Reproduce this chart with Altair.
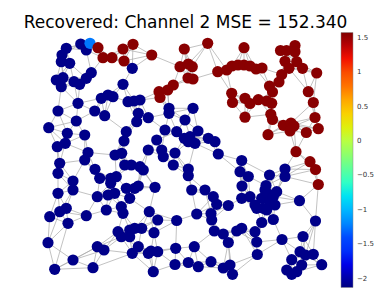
import altair as alt
import numpy as np
import pandas as pd

TITLE = "Recovered: Channel 2 MSE = 152.340"

# node positions (graph coordinates)
red_x = [98, 103, 112, 123, 133, 124,
         151.7, 184.3, 207.7, 180, 188.3, 192.3, 188, 193,
         217.7, 226.7, 232, 238, 244, 250, 256, 262,
         244, 280.5, 286.5, 295, 295, 285, 296.7, 289, 302.5, 316.7,
         281.7, 279, 269.5, 272.5, 308.3, 313.3,
         231.7, 232.5, 173.3, 167.7, 159, 160,
         245, 250, 258.3, 266.7, 271.7,
         245, 270.8, 272.5, 315, 318.3, 306.3,
         283.3, 291, 294, 290, 268, 296,
         310, 315.5, 318.3]
red_y = [47.7, 57.7, 57.7, 49, 44.3, 61,
         55, 49, 43.3, 66.7, 64, 66.7, 78, 79,
         71.7, 70, 66, 65, 65, 66, 69, 68,
         47.7, 50.5, 50.5, 45.5, 51.7, 61.3, 61.7, 68.3, 68.3, 73,
         74.5, 82, 86, 92, 91.7, 102.5,
         93.3, 102.5, 85, 90, 91.7, 97.5,
         98.3, 103.5, 99.7, 101, 103.3,
         117.2, 114.3, 119.5, 117.5, 128.7, 132.5,
         125.3, 123, 126, 131, 134.7, 151.7,
         161.7, 169.5, 184.5]

blue_x = [80.7, 86.3, 66.3, 62, 61.3, 69.7,
          132.3, 91.3, 86.3, 79.7, 74, 56.3, 63, 61.3,
          123, 101.3, 108, 113, 78, 94.7, 104.7,
          128, 134, 140, 58, 76.3, 48.7, 67.3, 84.7,
          57.3, 65.3, 126.3, 124, 115, 121.7, 88,
          138.3, 136.7, 148.3, 169, 169, 193, 185,
          165, 176.7, 198, 184.3, 190, 195, 188.3,
          208.3, 215, 218.3, 156.7, 148.3, 161.7, 163.3, 175,
          59.7, 84.7, 58, 73, 58, 73, 95, 99.7,
          110.7, 116.3, 110.7, 124.7, 131.3, 140, 143.3,
          97.3, 108, 114.7, 126.3, 134.7, 129.7, 138.3, 155,
          66.3, 59.7, 49.7, 68, 86.3, 106.3, 121.3, 123,
          118, 121.3, 129.7, 134.7, 129.7, 141.7,
          48, 97.3, 104, 132.3, 73, 54.7, 93,
          173.3, 188.3, 188.3, 191.7, 205, 213.3, 216.7, 228.3,
          149.3, 157.7, 176.7, 196.7, 211, 211.7,
          154, 138.3, 148.3, 151, 157.7, 175.7, 194.3,
          175, 188.3, 198.3, 211, 223.3, 230, 153.3, 232.5,
          214.3, 223.3, 228.3,
          241.7, 240, 248.3, 269.5, 285, 285, 242, 266,
          241.7, 250, 255, 261.7, 265, 268.3, 270, 273.3, 276.7, 275, 263.3, 256.7, 266.7,
          299.5, 261.7, 273.3, 315.5, 241.7, 236.7, 255, 256.7,
          282, 303, 257.3, 300, 305.5, 313.3, 291.7, 321.7,
          301.7, 296.7, 286.7, 291.7]
blue_y = [44, 50, 48.3, 55, 61.7, 63.3,
          68.3, 72.7, 78.3, 84.3, 81.7, 80, 77.7, 86.7,
          84.3, 98.3, 95, 96.7, 103.3, 111, 115.7,
          101.7, 101, 100, 111, 121, 127.7, 133.3, 135,
          146.7, 143.3, 131.7, 141, 155, 153.3, 152.5,
          113.3, 121.7, 117.7, 108.3, 113.3, 108.3, 120,
          130, 131.7, 131, 138.3, 136.7, 143.3, 141.7,
          138.3, 141.7, 154, 140, 150, 150, 156.7, 153,
          163.3, 160, 173.3, 181, 193.3, 190, 169.3, 178.3,
          178.3, 176.7, 183.3, 165, 165, 166.7, 170,
          196.7, 195, 193.3, 188.3, 188.3, 198.3, 186, 187.3,
          208.3, 211.7, 216.7, 223.3, 215.7, 210, 206.7, 213.3,
          231.7, 236.7, 230, 228.3, 236.7, 228.3,
          242.7, 246.7, 250, 253.3, 260, 269.3, 267.7,
          165, 169, 175.7, 190, 190, 196.7, 204.3, 205.5,
          211.7, 220, 220.5, 214, 213.5, 220,
          232.7, 246.7, 253.3, 251, 251.7, 248.3, 246.7,
          264.5, 262.5, 266.7, 261.7, 268, 265, 271.7, 274.3,
          231, 234, 242.5,
          160.5, 171.7, 176.5, 175, 169, 176.5, 186, 185.5,
          198.3, 196.7, 205, 198.3, 190, 194, 201.7, 196.7, 191.7, 205, 208.3, 208.3, 210,
          200.7, 222.5, 219.5, 221, 228.3, 231, 231.7, 242,
          239.5, 236.5, 254.5, 251.7, 255, 254.3, 259.7, 264.7,
          265, 271.7, 270, 274.3]

light_x = [90]
light_y = [43.3]

red_value = 1.55
blue_value = -2.1
light_value = -1.25

color_min, color_max = -2.13, 1.58
legend_ticks = [-2, -1.5, -1, -0.5, 0, 0.5, 1, 1.5]
jet = ["#000080", "#0000F4", "#004CFF", "#00B3FF", "#29FFCE", "#7DFF7A",
       "#CEFF29", "#FFC600", "#FF6800", "#F30900", "#800000"]

xs = blue_x + light_x + red_x
ys = blue_y + light_y + red_y
vals = [blue_value] * len(blue_x) + [light_value] * len(light_x) + [red_value] * len(red_x)
nodes = pd.DataFrame({"x": xs, "y": ys, "v": vals})

# k-nearest-neighbour graph between the nodes
P = np.array([xs, ys]).T
D = np.sqrt(((P[:, None, :] - P[None, :, :]) ** 2).sum(-1))
np.fill_diagonal(D, np.inf)
k = 5
pairs = set()
for i in range(len(P)):
    for j in np.argsort(D[i])[:k]:
        pairs.add((min(i, int(j)), max(i, int(j))))
edges = pd.DataFrame([{"x": xs[i], "y": ys[i], "x2": xs[j], "y2": ys[j]} for i, j in sorted(pairs)])

xsc = alt.Scale(domain=[8, 383], nice=False, zero=False)
ysc = alt.Scale(domain=[30, 292], nice=False, zero=False, reverse=True)

stops = [color_min + (color_max - color_min) * i / 10 for i in range(11)]

edge_layer = alt.Chart(edges).mark_rule(color="#a8a8a8", strokeWidth=0.7).encode(
    x=alt.X("x:Q", scale=xsc, axis=None),
    y=alt.Y("y:Q", scale=ysc, axis=None),
    x2="x2:Q", y2="y2:Q",
)

node_layer = alt.Chart(nodes).mark_circle(size=125, opacity=1).encode(
    x=alt.X("x:Q", scale=xsc, axis=None),
    y=alt.Y("y:Q", scale=ysc, axis=None),
    color=alt.Color("v:Q", scale=alt.Scale(domain=stops, range=jet),
                    legend=alt.Legend(title=None, orient="none", legendX=333, legendY=2.5,
                                      direction="vertical", gradientLength=255,
                                      gradientThickness=12, values=legend_ticks,
                                      format=".1~f", labelFontSize=7, labelFont="DejaVu Sans",
                                      labelColor="#333333", labelOffset=4, labelOverlap=False,
                                      gradientStrokeColor="#888888", gradientStrokeWidth=0.5,
                                      padding=0)),
)

chart = alt.layer(edge_layer, node_layer).properties(
    width=375, height=262,
    title=alt.TitleParams(TITLE, fontSize=17, font="DejaVu Sans", fontWeight="normal",
                          anchor="middle", dx=-10, dy=3, offset=1, color="#000000"),
    padding={"left": 0, "top": 22, "right": 0, "bottom": 0},
    autosize=alt.AutoSizeParams(type="none"),
).configure_view(stroke=None)

chart.save("out.html", embed_options={"renderer": "svg", "actions": False})
